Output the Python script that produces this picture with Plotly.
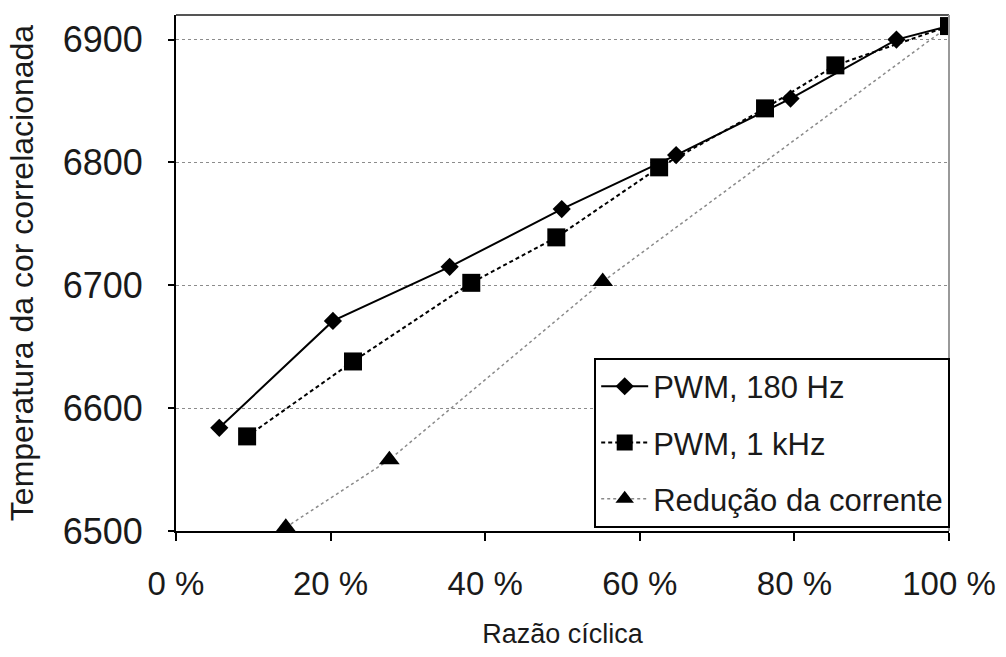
import plotly.graph_objects as go

# Razão cíclica (fraction) and correlated colour temperature (K)
duty_pwm180 = [0.056, 0.203, 0.354, 0.499, 0.647, 0.795, 0.932, 1.0]
cct_pwm180 = [6584, 6671, 6715, 6762, 6806, 6852, 6900, 6911]

duty_pwm1k = [0.092, 0.229, 0.382, 0.492, 0.625, 0.762, 0.853, 1.0]
cct_pwm1k = [6577, 6638, 6702, 6739, 6796, 6844, 6879, 6911]

duty_current = [0.142, 0.276, 0.552, 1.0]
cct_current = [6503, 6558, 6703, 6911]

x_ticks = [0, 0.2, 0.4, 0.6, 0.8, 1.0]
x_ticktext = ["0 %", "20 %", "40 %", "60 %", "80 %", "100 %"]
y_ticks = [6500, 6600, 6700, 6800, 6900]

FONT = "Liberation Sans, Arial, sans-serif"
TXT = "#1a1a1a"

fig = go.Figure()

fig.add_trace(go.Scatter(
    x=duty_current, y=cct_current, name="Redução da corrente",
    mode="lines+markers", legendgroup="c", legendrank=3,
    line=dict(color="#8a8a8a", width=1.5, dash="dot"),
    marker=dict(symbol="triangle-up", size=18, color="black"),
))
fig.add_trace(go.Scatter(
    x=duty_pwm180, y=cct_pwm180, name="PWM, 180 Hz",
    mode="lines+markers", legendgroup="a", legendrank=1,
    line=dict(color="black", width=2),
    marker=dict(symbol="diamond", size=14, color="black"),
))
fig.add_trace(go.Scatter(
    x=duty_pwm1k, y=cct_pwm1k, name="PWM, 1 kHz",
    mode="lines+markers", legendgroup="b", legendrank=2,
    line=dict(color="black", width=2, dash="4px,3px"),
    marker=dict(symbol="square", size=18, color="black"),
))

# frame: top and right borders in grey
fig.add_shape(type="line", xref="paper", yref="paper", x0=0, x1=1, y0=1, y1=1,
              line=dict(color="#555555", width=2))
fig.add_shape(type="line", xref="paper", yref="paper", x0=1, x1=1, y0=0, y1=1,
              line=dict(color="#999999", width=2))

fig.update_layout(
    width=1006, height=657,
    margin=dict(l=176, r=57, t=15, b=126),
    paper_bgcolor="white", plot_bgcolor="white",
    font=dict(family=FONT, color=TXT, size=28),
    showlegend=True,
    legend=dict(
        x=0.541, y=0.336, xanchor="left", yanchor="top",
        bgcolor="white", bordercolor="black", borderwidth=2,
        font=dict(size=31, family=FONT, color=TXT),
        traceorder="grouped", tracegroupgap=13, itemwidth=47,
    ),
    xaxis=dict(
        range=[0, 1], tickvals=x_ticks, ticktext=x_ticktext,
        showgrid=False, zeroline=False, automargin=False,
        showline=True, linecolor="black", linewidth=2,
        ticks="outside", ticklen=8, tickwidth=2, tickcolor="black",
        tickfont=dict(size=33, family=FONT, color=TXT),
        ticklabelstandoff=14,
        title=dict(text="Razão cíclica", font=dict(size=27, family=FONT, color=TXT), standoff=24),
    ),
    yaxis=dict(
        range=[6500, 6920], tickvals=y_ticks,
        showgrid=True, gridcolor="#8c8c8c", griddash="dot", gridwidth=1,
        zeroline=False, automargin=False,
        showline=True, linecolor="black", linewidth=2,
        ticks="outside", ticklen=6, tickwidth=2, tickcolor="black",
        tickfont=dict(size=36, family=FONT, color=TXT),
        ticklabelstandoff=18,
        title=dict(text="Temperatura da cor correlacionada", font=dict(size=32, family=FONT, color=TXT), standoff=20),
    ),
)

fig.write_html("out.html")
